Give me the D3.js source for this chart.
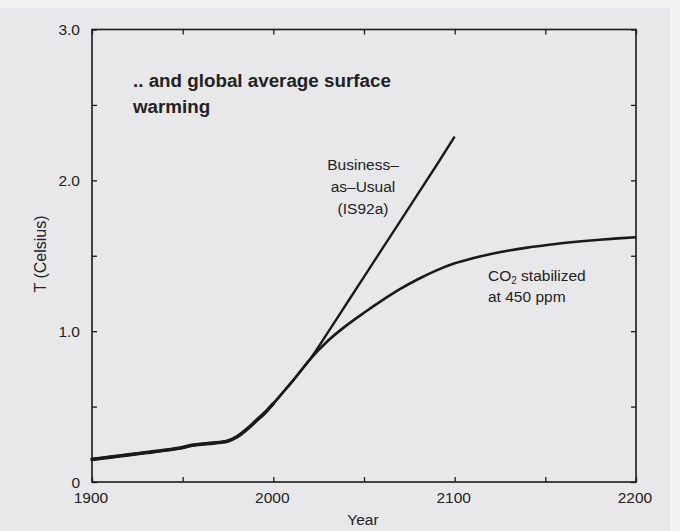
<!DOCTYPE html>
<html>
<head>
<meta charset="utf-8">
<script src="https://cdn.jsdelivr.net/npm/d3@7"></script>
<style>
  html, body { margin: 0; padding: 0; background: #f3f3f3; }
  svg { display: block; }
</style>
</head>
<body>
<svg id="chart" width="680" height="531"></svg>
<script>
// ---- data ----
const histYears = [1900,1910,1920,1930,1940,1950,1955,1960,1965,1970,1975,1980,1985,1990,1995,2000,2005,2010,2015,2020];
const histT     = [0.15,0.165,0.18,0.195,0.21,0.228,0.243,0.25,0.256,0.262,0.272,0.30,0.345,0.40,0.455,0.52,0.59,0.66,0.735,0.81];

const bauYears  = [2020,2030,2040,2050,2060,2070,2080,2090,2100];
const bauT      = [0.81,0.99,1.175,1.36,1.545,1.73,1.915,2.10,2.29];

const stabYears = [2020,2030,2040,2050,2060,2070,2080,2090,2100,2110,2120,2130,2140,2150,2160,2170,2180,2190,2200];
const stabT     = [0.81,0.935,1.035,1.122,1.204,1.280,1.346,1.403,1.450,1.484,1.512,1.535,1.554,1.570,1.584,1.596,1.606,1.615,1.623];

const xTickValues = [1900,1950,2000,2050,2100,2150,2200];
const xLabelValues = [1900,2000,2100,2200];
const yTickValues = [0,0.5,1.0,1.5,2.0,2.5,3.0];
const yLabelValues = [0,1.0,2.0,3.0];

const titleLines = [".. and global average surface", "warming"];
const bauLabel = ["Business\u2013", "as\u2013Usual", "(IS92a)"];

// ---- layout ----
const svg = d3.select("#chart");
const L = 92, R = 636, T = 29.5, B = 482;
const x = d3.scaleLinear().domain([1900, 2200]).range([L, R]);
const y = d3.scaleLinear().domain([0, 3]).range([B, T]);

const ink = "#1a1a1a";
const textInk = "#222";
const font = "'Liberation Sans', Arial, Helvetica, sans-serif";

// paper background
svg.append("rect").attr("x", 0).attr("y", 0).attr("width", 680).attr("height", 531).attr("fill", "#f2f2f2");
svg.append("rect").attr("x", 0).attr("y", 8).attr("width", 670).attr("height", 523).attr("fill", "#e8e8ea");

// axes (ticks inward)
const tickLen = 5;
svg.append("g").attr("transform", `translate(0,${B})`)
  .call(d3.axisBottom(x).tickValues(xTickValues).tickSizeInner(-tickLen).tickSizeOuter(0).tickFormat(""));
svg.append("g").attr("transform", `translate(0,${T})`)
  .call(d3.axisTop(x).tickValues(xTickValues).tickSizeInner(-tickLen).tickSizeOuter(0).tickFormat(""));
svg.append("g").attr("transform", `translate(${L},0)`)
  .call(d3.axisLeft(y).tickValues(yTickValues).tickSizeInner(-tickLen).tickSizeOuter(0).tickFormat(""));
svg.append("g").attr("transform", `translate(${R},0)`)
  .call(d3.axisRight(y).tickValues(yTickValues).tickSizeInner(-tickLen).tickSizeOuter(0).tickFormat(""));
svg.selectAll(".domain").remove();
svg.selectAll(".tick line").attr("stroke", ink).attr("stroke-width", 1.3);

// frame
svg.append("rect").attr("x", L).attr("y", T).attr("width", R - L).attr("height", B - T)
  .attr("fill", "none").attr("stroke", ink).attr("stroke-width", 1.6);

// tick labels
svg.append("g").selectAll("text").data(xLabelValues).join("text")
  .attr("x", d => x(d) - 1).attr("y", 503)
  .attr("text-anchor", "middle").attr("font-family", font).attr("font-size", 15.5).attr("fill", textInk)
  .text(d => d);
svg.append("g").selectAll("text").data(yLabelValues).join("text")
  .attr("x", 80).attr("y", d => y(d) + 5.5)
  .attr("text-anchor", "end").attr("font-family", font).attr("font-size", 15.5).attr("fill", textInk)
  .text(d => d === 0 ? "0" : d3.format(".1f")(d));

// axis titles
svg.append("text").attr("x", 363).attr("y", 525).attr("text-anchor", "middle")
  .attr("font-family", font).attr("font-size", 15.5).attr("fill", textInk).text("Year");
svg.append("text").attr("transform", "translate(46,254) rotate(-90)").attr("text-anchor", "middle")
  .attr("font-family", font).attr("font-size", 16).attr("fill", textInk).text("T (Celsius)");

// lines
const line = d3.line().x(d => x(d[0])).y(d => y(d[1])).curve(d3.curveMonotoneX);
const hist = histYears.map((yr, i) => [yr, histT[i]]);
const bau = hist.concat(bauYears.slice(1).map((yr, i) => [yr, bauT[i + 1]]));
const stab = hist.concat(stabYears.slice(1).map((yr, i) => [yr, stabT[i + 1]]));

svg.append("path").datum(bau).attr("d", line).attr("fill", "none").attr("stroke", ink).attr("stroke-width", 2.4);
svg.append("path").datum(stab).attr("d", line).attr("fill", "none").attr("stroke", ink).attr("stroke-width", 2.6);
svg.append("path").datum(hist.filter(d => d[0] <= 2000)).attr("d", line).attr("fill", "none").attr("stroke", ink)
  .attr("stroke-width", 3.6).attr("stroke-linejoin", "round").attr("stroke-linecap", "round");

// title
svg.append("g").selectAll("text").data(titleLines).join("text")
  .attr("x", 133).attr("y", (d, i) => 87 + i * 26)
  .attr("font-family", font).attr("font-size", 18.8).attr("font-weight", "bold").attr("fill", textInk)
  .text(d => d);

// BAU label
svg.append("g").selectAll("text").data(bauLabel).join("text")
  .attr("x", 363).attr("y", (d, i) => 170 + i * 22).attr("text-anchor", "middle")
  .attr("font-family", font).attr("font-size", 15.5).attr("fill", textInk)
  .text(d => d);

// Stabilized label
const co2 = svg.append("text").attr("x", 488).attr("y", 281)
  .attr("font-family", font).attr("font-size", 15.5).attr("fill", textInk);
co2.append("tspan").text("CO");
co2.append("tspan").attr("font-size", 10).attr("dy", 3).text("2");
co2.append("tspan").attr("dy", -3).text(" stabilized");
svg.append("text").attr("x", 488).attr("y", 302)
  .attr("font-family", font).attr("font-size", 15.5).attr("fill", textInk).text("at 450 ppm");
</script>
</body>
</html>
